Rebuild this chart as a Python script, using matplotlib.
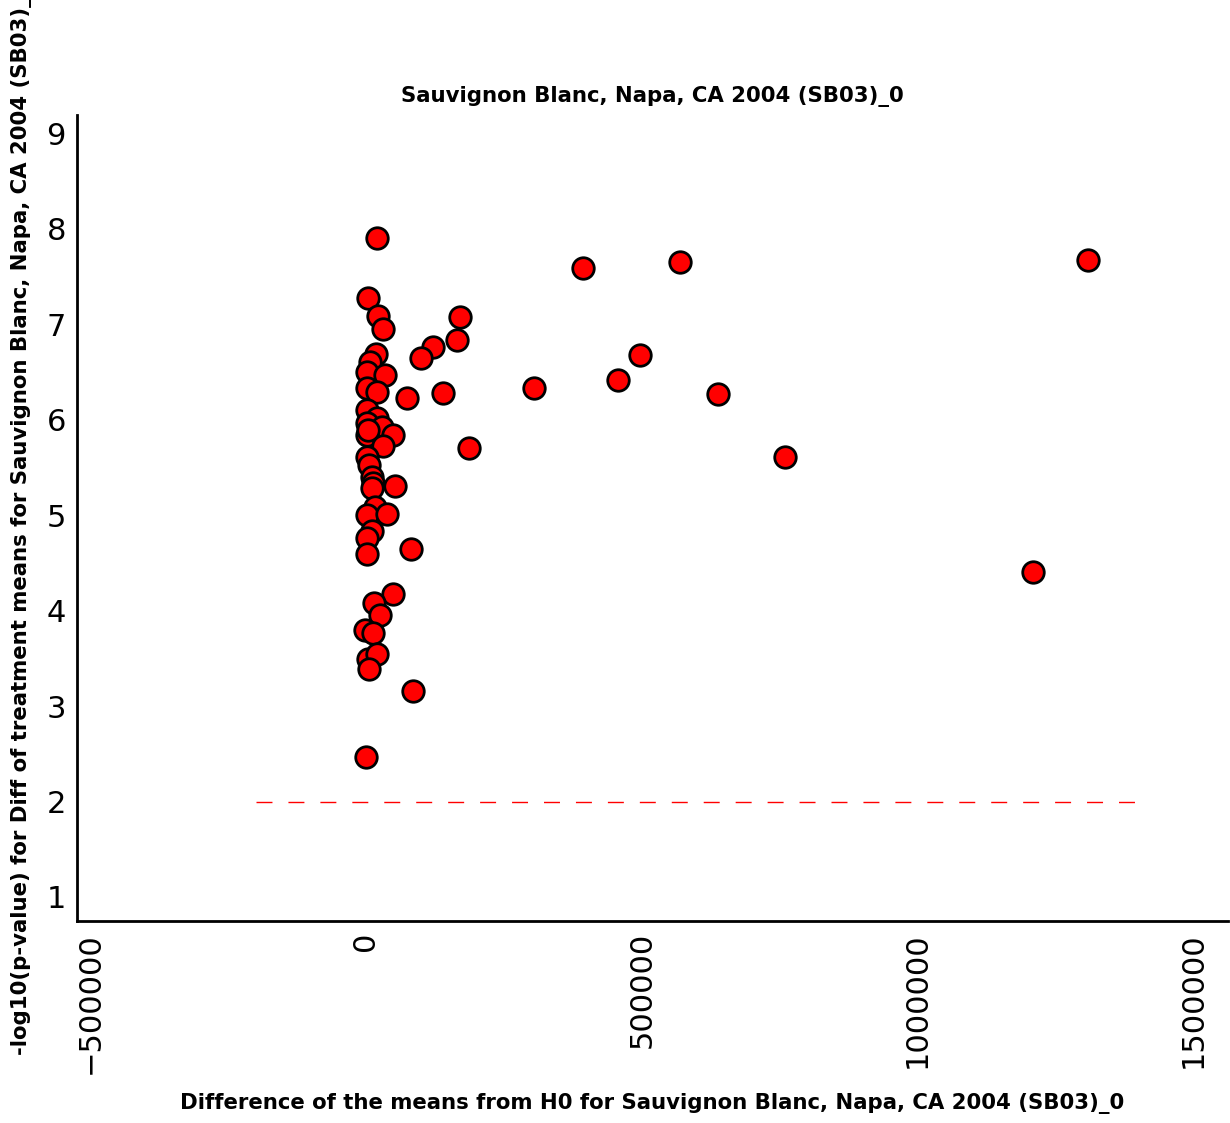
import matplotlib
matplotlib.use('Agg')
import matplotlib.pyplot as plt
from matplotlib.ticker import ScalarFormatter

# difference of the means (x) and -log10(p-value) (y)
diff_means = [19900, 393100, 568800, 1308000, 3600, 21700, 170300, 30800, 164900, 121400,
              18100, 99600, 496400, 8000, 2000, 34400, 304300, 456500, 2000, 20000,
              74000, 140000, 637700, 186000, 759000, 1208300, 2000, 20000, 2000, 29000,
              49000, 2000, 4000, 31000, 2000, 5000, 11000, 12000, 53000, 11000,
              17000, 2000, 39000, 11000, 2000, 2000, 82000, 49000, 14000, 25000,
              -1000, 13000, 3000, 20000, 5000, 86000, 0]
neg_log_p = [7.90, 7.59, 7.65, 7.67, 7.27, 7.08, 7.07, 6.95, 6.83, 6.76,
             6.69, 6.65, 6.68, 6.60, 6.50, 6.47, 6.33, 6.41, 6.33, 6.29,
             6.23, 6.28, 6.27, 5.70, 5.61, 4.40, 6.10, 6.02, 5.96, 5.92,
             5.84, 5.84, 5.89, 5.72, 5.61, 5.52, 5.40, 5.34, 5.30, 5.28,
             5.08, 5.00, 5.01, 4.83, 4.76, 4.59, 4.64, 4.17, 4.08, 3.95,
             3.80, 3.76, 3.49, 3.54, 3.39, 3.16, 2.47]

threshold = 2.0
threshold_x = [-200000, 1400000]
name = 'Sauvignon Blanc, Napa, CA 2004 (SB03)_0'

fig = plt.figure(figsize=(12.3, 11.23), dpi=100)
ax = fig.add_axes([0.0626, 0.18, 0.9354, 0.7176])

ax.scatter(diff_means, neg_log_p, s=240, c='red', edgecolors='black', linewidths=2, zorder=3)
ax.plot(threshold_x, [threshold, threshold], color='red', linestyle=(0, (11.5, 11.5)), linewidth=1)

ax.set_xlim(-523600, 1561600)
ax.set_ylim(0.75, 9.19)
ax.set_xticks([-500000, 0, 500000, 1000000, 1500000])
fmt = ScalarFormatter(useOffset=False)
fmt.set_scientific(False)
ax.xaxis.set_major_formatter(fmt)
ax.set_yticks(range(1, 10))
ax.tick_params(axis='both', length=0, labelsize=22)
ax.tick_params(axis='x', labelrotation=90, pad=8)
ax.tick_params(axis='y', pad=8)
ax.spines['top'].set_visible(False)
ax.spines['right'].set_visible(False)
ax.spines['left'].set_linewidth(2)
ax.spines['bottom'].set_linewidth(2)

ax.set_title(name, fontsize=15.3, fontweight='bold', pad=9)
ax.set_xlabel('Difference of the means from H0 for ' + name, fontsize=15.3, fontweight='bold', labelpad=14)
ax.set_ylabel('-log10(p-value) for Diff of treatment means for ' + name, fontsize=15.3, fontweight='bold', labelpad=10)

fig.savefig('out.png', dpi=100)
plt.close()
